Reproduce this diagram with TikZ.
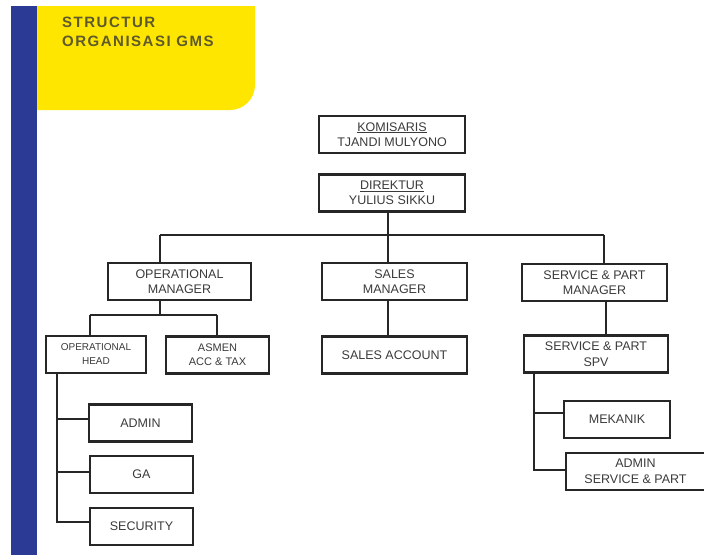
\documentclass[tikz,border=0pt]{standalone}
\usepackage{fontspec}
\setmainfont{Liberation Sans}
\definecolor{gmsblue}{HTML}{2B3A94}
\definecolor{gmsyellow}{HTML}{FFE600}
\definecolor{judul}{HTML}{5E5A2C}
\definecolor{teks}{HTML}{3A3A3A}
\tikzset{
  jabatan/.style={draw=black!85, line width=2.6pt, minimum height=37pt, inner sep=0pt,
    text=teks, align=center, font=\fontsize{12.5}{15.5}\selectfont},
  garis/.style={draw=black!85, line width=2pt},
  judulteks/.style={anchor=base west, text=judul, inner sep=0pt,
    font=\fontsize{15}{18}\bfseries\addfontfeature{LetterSpace=10}}
}

\begin{document}
\begin{tikzpicture}[x=1pt,y=-1pt]
            \useasboundingbox (0,0) rectangle (704,555);
            \fill[gmsblue] (11,6) rectangle (37,555);
            \fill[gmsyellow] (37,6) -- (255,6) -- (255,85) .. controls (255,98.8) and (243.8,110) .. (230,110) -- (37,110) -- cycle;
            \node[judulteks] (judul1) at (62,27) {STRUCTUR};
            \node[judulteks] (judul2) at (62,46) {ORGANISASI GMS};
            \node[jabatan, minimum width=146pt] (komisaris) at (392,134.5) {\underline{KOMISARIS}\\TJANDI MULYONO};
            \node[jabatan, minimum width=146pt] (direktur) at (392,193) {\underline{DIREKTUR}\\YULIUS SIKKU};
            \node[jabatan, minimum width=143pt] (opmanager) at (179.5,281.5) {OPERATIONAL\\MANAGER};
            \node[jabatan, minimum width=145pt] (salesmgr) at (394.5,281.5) {SALES\\MANAGER};
            \node[jabatan, minimum width=145pt] (spmgr) at (594.5,282.5) {SERVICE \& PART\\MANAGER};
            \node[jabatan, minimum width=100pt, font=\fontsize{10}{14}\selectfont] (ophead) at (96,354.5) {OPERATIONAL\\HEAD};
            \node[jabatan, minimum width=103pt, font=\fontsize{11}{14}\selectfont] (asmen) at (217.5,355) {ASMEN\\ACC \& TAX};
            \node[jabatan, minimum width=145pt] (salesacc) at (394.5,355) {SALES ACCOUNT};
            \node[jabatan, minimum width=144pt] (spspv) at (596,354) {SERVICE \& PART\\SPV};
            \node[jabatan, minimum width=103pt] (admin) at (140.5,423) {ADMIN};
            \node[jabatan, minimum width=103pt] (ga) at (141.5,474.5) {GA};
            \node[jabatan, minimum width=103pt] (security) at (141.5,526.5) {SECURITY};
            \node[jabatan, minimum width=106pt] (mekanik) at (617,419.5) {MEKANIK};
            \node[jabatan, minimum width=139pt] (adminsp) at (635.5,471.5) {ADMIN\\SERVICE \& PART};
            \coordinate (busL) at (160,235);
            \coordinate (busC) at (388,235);
            \coordinate (busR) at (604,235);
            \coordinate (opbusL) at (90,315);
            \coordinate (opbusC) at (160,315);
            \coordinate (opbusR) at (217,315);
            \coordinate (spx) at (606,320);
            \coordinate (kiri) at (57,522);
            \coordinate (kiriAdmin) at (57,419);
            \coordinate (kiriGa) at (57,472);
            \coordinate (kanan) at (534,470);
            \coordinate (kananMek) at (534,413);
            \draw[garis] (busC |- direktur.south) -- (busC |- salesmgr.north);
            \draw[garis] (busL) -- (busR);
            \draw[garis] (busL) -- (busL |- opmanager.north);
            \draw[garis] (busR) -- (busR |- spmgr.north);
            \draw[garis] (opbusC |- opmanager.south) -- (opbusC);
            \draw[garis] (opbusL) -- (opbusR);
            \draw[garis] (opbusL) -- (opbusL |- ophead.north);
            \draw[garis] (opbusR) -- (opbusR |- asmen.north);
            \draw[garis] (busC |- salesmgr.south) -- (busC |- salesacc.north);
            \draw[garis] (spx |- spmgr.south) -- (spx |- spspv.north);
            \draw[garis] (kiri |- ophead.south) -- (kiri) -- (kiri -| security.west);
            \draw[garis] (kiriAdmin) -- (kiriAdmin -| admin.west);
            \draw[garis] (kiriGa) -- (kiriGa -| ga.west);
            \draw[garis] (kanan |- spspv.south) -- (kanan) -- (kanan -| adminsp.west);
            \draw[garis] (kananMek) -- (kananMek -| mekanik.west);
        \end{tikzpicture}
\end{document}
